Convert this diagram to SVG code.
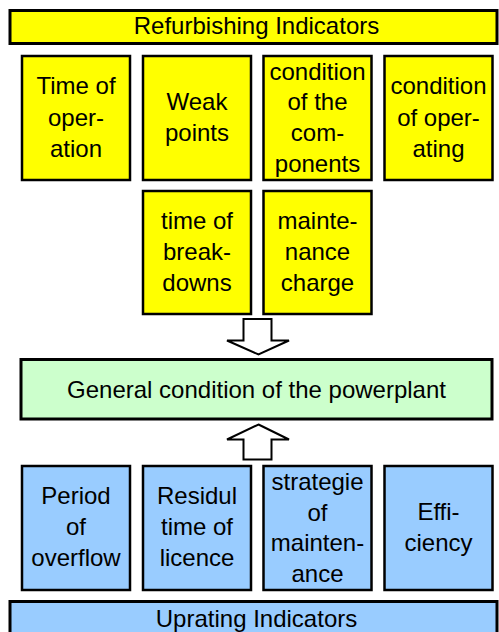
<svg xmlns="http://www.w3.org/2000/svg" width="499" height="632" viewBox="0 0 499 632">
<style>
text{font-family:"Liberation Sans",Arial,sans-serif;font-size:24px;fill:#000;text-anchor:middle}
.y{fill:#FFFF00;stroke:#000;stroke-width:2.5}
.b{fill:#99CCFF;stroke:#000;stroke-width:2.5}
.g{fill:#CCFFCC;stroke:#000;stroke-width:3}
.bar{stroke:#000;stroke-width:3}
.arr{fill:#fff;stroke:#000;stroke-width:2;stroke-linejoin:miter}
</style>
<g id="refurbishing-indicators">
<rect class="bar" x="10" y="10.5" width="487" height="33" fill="#FFFF00"/>
<text x="256.5" y="34">Refurbishing Indicators</text>
</g>
<g id="time-of-operation">
<rect class="y" x="22" y="56" width="108" height="124"/>
<text x="76" y="94">Time of</text><text x="76" y="125.5">oper-</text><text x="76" y="157">ation</text>
</g>
<g id="weak-points">
<rect class="y" x="143" y="56" width="108" height="124"/>
<text x="197" y="110">Weak</text><text x="197" y="141">points</text>
</g>
<g id="condition-components">
<rect class="y" x="263.5" y="56" width="108" height="124"/>
<text x="317.5" y="79.5">condition</text><text x="317.5" y="110.3">of the</text><text x="317.5" y="141.1">com-</text><text x="317.5" y="171.9">ponents</text>
</g>
<g id="condition-operating">
<rect class="y" x="384.5" y="56" width="108" height="124"/>
<text x="438.5" y="94">condition</text><text x="438.5" y="125.5">of oper-</text><text x="438.5" y="157">ating</text>
</g>
<g id="time-of-breakdowns">
<rect class="y" x="143" y="191" width="108" height="123"/>
<text x="197" y="229">time of</text><text x="197" y="260">break-</text><text x="197" y="291">downs</text>
</g>
<g id="maintenance-charge">
<rect class="y" x="263.5" y="191" width="108" height="123"/>
<text x="317.5" y="229">mainte-</text><text x="317.5" y="260">nance</text><text x="317.5" y="291">charge</text>
</g>
<g id="connectors">
<path class="arr" d="M243.5,319 L271.5,319 L271.5,340.5 L289,340.5 L258.5,354.5 L227,340.5 L243.5,340.5 Z"/>
<path class="arr" d="M258.5,424.5 L289,439.5 L271.5,439.5 L271.5,459.5 L243.5,459.5 L243.5,439.5 L227,439.5 Z"/>
</g>
<g id="general-condition">
<rect class="g" x="21" y="359.5" width="471" height="59.5"/>
<text x="256.5" y="397.5">General condition of the powerplant</text>
</g>
<g id="period-of-overflow">
<rect class="b" x="22" y="466" width="108" height="124"/>
<text x="76" y="504">Period</text><text x="76" y="535">of</text><text x="76" y="566">overflow</text>
</g>
<g id="residul-time-of-licence">
<rect class="b" x="143" y="466" width="108" height="124"/>
<text x="197" y="504">Residul</text><text x="197" y="535">time of</text><text x="197" y="566">licence</text>
</g>
<g id="strategie-of-maintenance">
<rect class="b" x="263.5" y="466" width="108" height="124"/>
<text x="317.5" y="490">strategie</text><text x="317.5" y="520.5">of</text><text x="317.5" y="551">mainten-</text><text x="317.5" y="581.5">ance</text>
</g>
<g id="efficiency">
<rect class="b" x="384.5" y="466" width="108" height="124"/>
<text x="438.5" y="520">Effi-</text><text x="438.5" y="551">ciency</text>
</g>
<g id="uprating-indicators">
<rect class="bar" x="10" y="601.5" width="487" height="40" fill="#99CCFF"/>
<text x="256.5" y="626.5">Uprating Indicators</text>
</g>
</svg>
